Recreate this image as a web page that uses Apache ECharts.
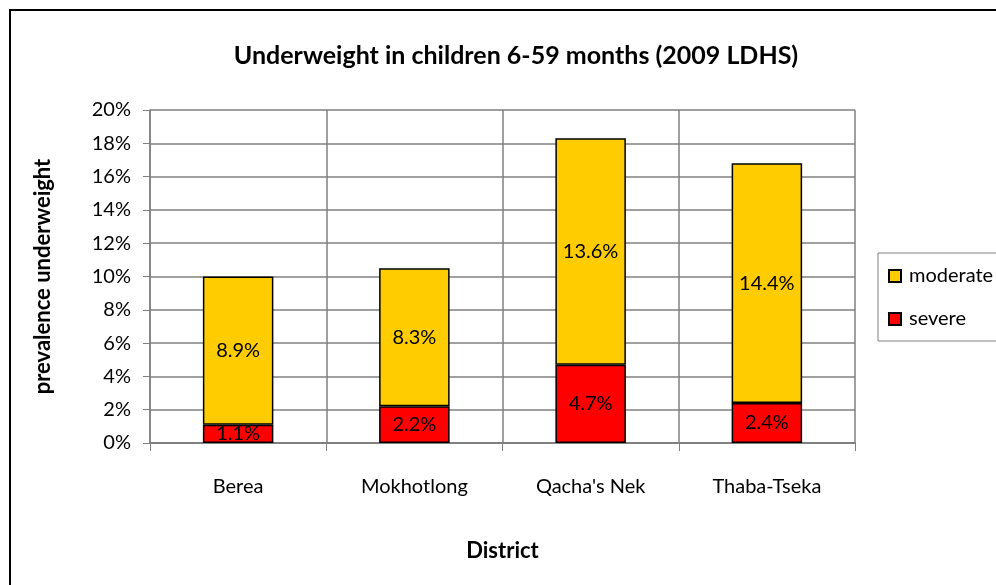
<!DOCTYPE html>
<html>
<head>
<meta charset="utf-8">
<script src="https://cdn.jsdelivr.net/npm/echarts@6/dist/echarts.min.js"></script>
<style>
html, body { margin: 0; padding: 0; background: #fff; }
#chart { width: 996px; height: 585px; }
</style>
</head>
<body>
<div id="chart"></div>
<script>
var districts = ['Berea', 'Mokhotlong', "Qacha's Nek", 'Thaba-Tseka'];
var severe = [1.1, 2.2, 4.7, 2.4];
var moderate = [8.9, 8.3, 13.6, 14.4];

var myChart = echarts.init(document.getElementById('chart'));
var font = 'Lato, "DejaVu Sans", sans-serif';

var option = {
    backgroundColor: '#fff',
    textStyle: { fontFamily: font },
    title: {
        text: 'Underweight in children 6-59 months (2009 LDHS)',
        left: 511,
        textAlign: 'center',
        top: 38,
        textStyle: { fontSize: 25, fontWeight: 'bold', color: '#000', fontFamily: font }
    },
    graphic: [{
        type: 'rect',
        shape: { x: 10, y: 10, width: 1000, height: 600 },
        style: { fill: 'none', stroke: '#000', lineWidth: 2 },
        silent: true
    }],
    legend: {
        orient: 'vertical',
        left: 878,
        top: 253,
        padding: [13, 40, 12, 10],
        itemGap: 23,
        itemWidth: 12,
        itemHeight: 12,
        icon: 'rect',
        borderColor: '#808080',
        borderWidth: 1,
        data: ['moderate', 'severe'],
        textStyle: { fontSize: 20, color: '#000', fontFamily: font, padding: [0, 0, 0, 3] }
    },
    grid: { left: 150, right: 141, top: 110, bottom: 142 },
    xAxis: {
        type: 'category',
        data: districts,
        name: 'District',
        nameLocation: 'middle',
        nameGap: 97,
        nameTextStyle: { fontSize: 22, fontWeight: 'bold', color: '#000' },
        axisLine: { lineStyle: { color: '#808080', width: 2 } },
        axisTick: { show: true, length: 8, lineStyle: { color: '#808080' } },
        axisLabel: { margin: 34, fontSize: 20, color: '#000' },
        splitLine: { show: true, lineStyle: { color: '#808080', width: 1.5 } }
    },
    yAxis: {
        type: 'value',
        min: 0,
        max: 20,
        interval: 2,
        name: 'prevalence underweight',
        nameLocation: 'middle',
        nameGap: 96,
        nameTextStyle: { fontSize: 22, fontWeight: 'bold', color: '#000' },
        axisLine: { show: true, lineStyle: { color: '#808080', width: 1.5 } },
        axisTick: { show: true, length: 7, lineStyle: { color: '#808080' } },
        axisLabel: { formatter: '{value}%', fontSize: 20, color: '#000', margin: 19 },
        splitLine: { show: true, lineStyle: { color: '#808080', width: 1.5 } }
    },
    series: [{
        name: 'severe',
        type: 'bar',
        stack: 'total',
        barWidth: '40%',
        data: severe,
        itemStyle: { color: '#ff0000', borderColor: '#000', borderWidth: 1.5 },
        label: { show: true, position: 'inside', formatter: '{c}%', fontSize: 20, color: '#000' }
    }, {
        name: 'moderate',
        type: 'bar',
        stack: 'total',
        barWidth: '40%',
        data: moderate,
        itemStyle: { color: '#ffcc00', borderColor: '#000', borderWidth: 1.5 },
        label: { show: true, position: 'inside', formatter: '{c}%', fontSize: 20, color: '#000' }
    }]
};
myChart.setOption(option, true);
</script>
</body>
</html>
